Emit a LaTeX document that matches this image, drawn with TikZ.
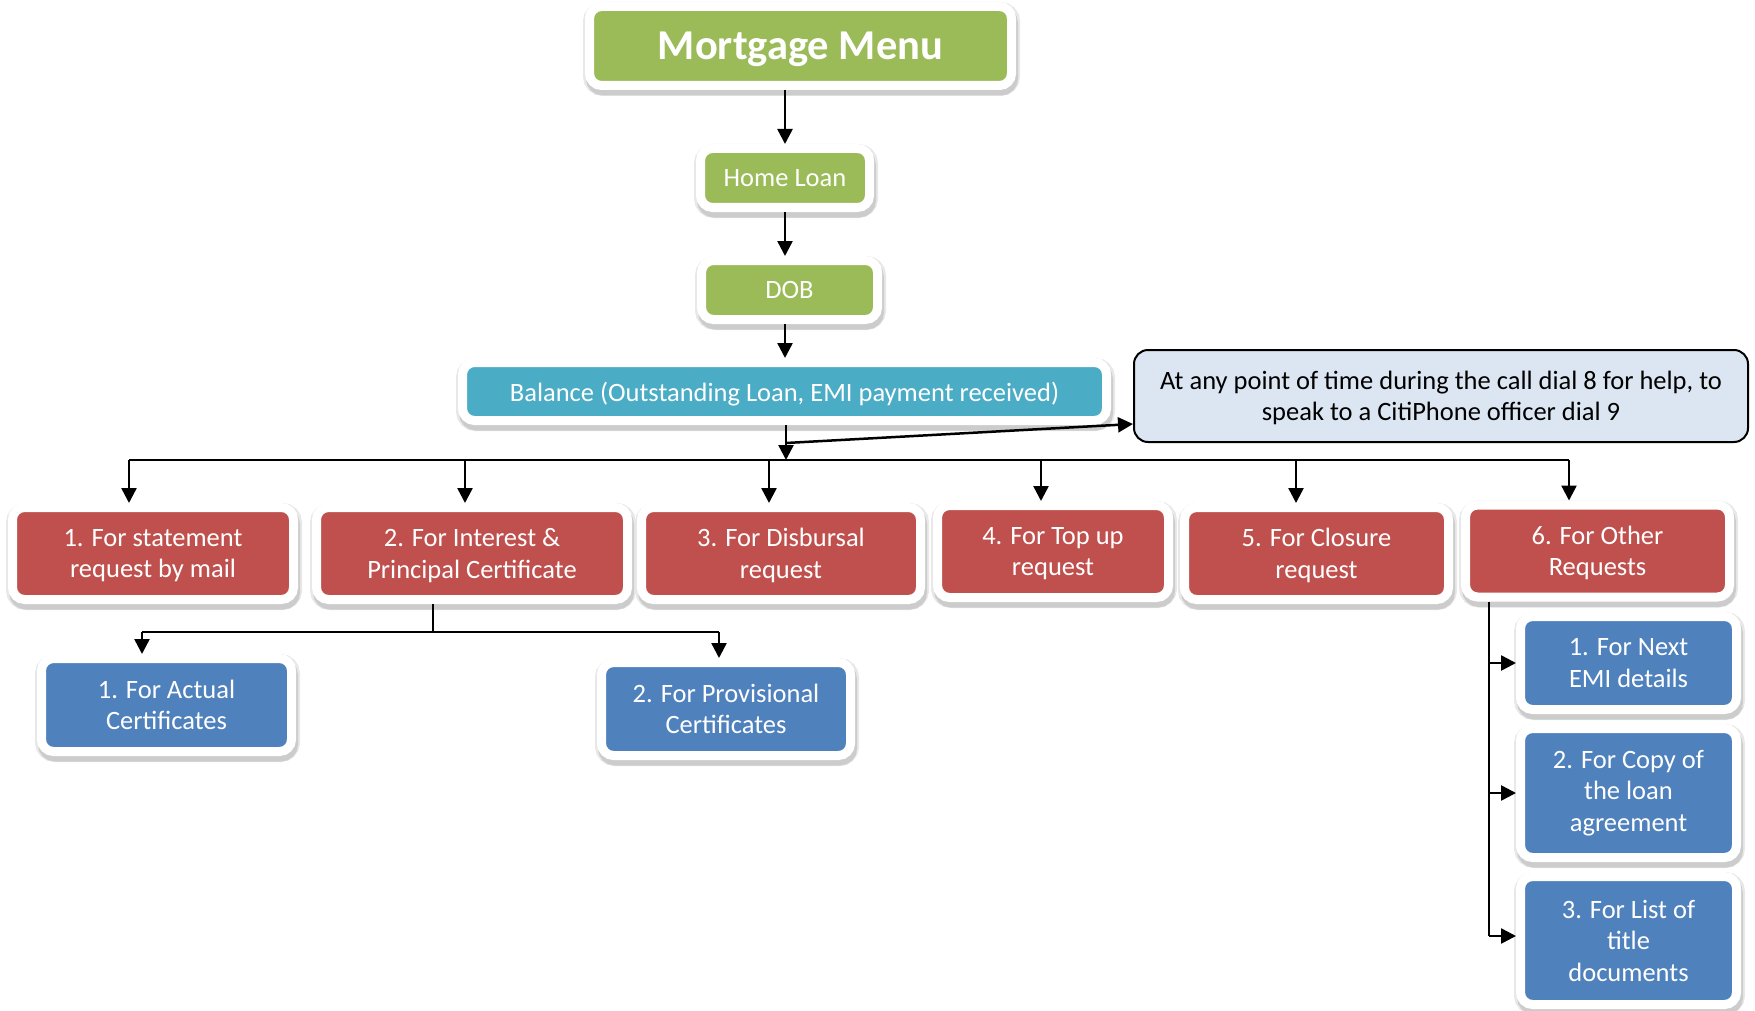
\documentclass[tikz,border=0pt]{standalone}
\usepackage{fontspec}
\setmainfont{Carlito}
\usetikzlibrary{arrows.meta,calc}

\definecolor{mgreen}{HTML}{9BBB59}
\definecolor{mteal}{HTML}{4BACC6}
\definecolor{mred}{HTML}{C0504D}
\definecolor{mblue}{HTML}{4F81BD}
\definecolor{mnote}{HTML}{DCE6F2}

\tikzset{
  box/.style={draw=white, line width=9pt, rounded corners=12pt, text=white,
    align=center, inner sep=0pt, font=\fontsize{26.5}{31.5}\selectfont,
    preaction={draw=black!9, line width=15pt, transform canvas={shift={(1pt,-3pt)}}},
    preaction={draw=black!20, line width=10pt, transform canvas={shift={(1.5pt,-5pt)}}}},
  greenbox/.style={box, fill=mgreen},
  tealbox/.style={box, fill=mteal, text depth=0pt},
  redbox/.style={box, fill=mred, minimum height=92pt, text depth=0pt},
  bluebox/.style={box, fill=mblue},
  notebox/.style={draw=black, line width=2pt, fill=mnote, rounded corners=14pt,
    align=center, inner sep=0pt, minimum width=614pt, minimum height=92pt,
    text depth=0pt, font=\fontsize{26.5}{31.5}\selectfont},
  conn/.style={line width=2.5pt, -{Triangle[length=15pt,width=15pt]}},
  wire/.style={line width=2.5pt}
}

\begin{document}
\begin{tikzpicture}[x=1pt,y=1pt]
\useasboundingbox (0,0) rectangle (1755,-1011);

\node[greenbox, minimum width=422pt, minimum height=79pt, text height=27pt, text depth=0pt,
  font=\fontsize{42.5}{48}\selectfont\bfseries] (menu) at (800.5,-46) {Mortgage Menu};
\node[greenbox, minimum width=169pt, minimum height=59pt] (home) at (785,-178) {Home Loan};
\node[greenbox, minimum width=176pt, minimum height=59pt] (dob) at (789.5,-290) {DOB};
\node[tealbox, minimum width=644pt, minimum height=58pt] (bal) at (784.5,-391.5) {Balance (Outstanding Loan, EMI payment received)};
\node[notebox] (note) at (1441,-396) {At any point of time during the call dial 8 for help, to\\speak to a CitiPhone officer dial 9};

\node[redbox, minimum width=281pt] (r1) at (153,-553.5) {1. For statement\\request by mail};
\node[redbox, minimum width=311pt] (r2) at (472,-553.5) {2. For Interest \&\\Principal Certificate};
\node[redbox, minimum width=279pt] (r3) at (781,-553.5) {3. For Disbursal\\request};
\node[redbox, minimum width=231pt] (r4) at (1053,-551.5) {4. For Top up\\request};
\node[redbox, minimum width=264pt] (r5) at (1316.5,-553.5) {5. For Closure\\request};
\node[redbox, minimum width=264pt] (r6) at (1597.5,-551) {6. For Other\\Requests};

\node[bluebox, minimum width=250pt, minimum height=93pt] (c1) at (166.5,-705) {1. For Actual\\Certificates};
\node[bluebox, minimum width=249pt, minimum height=93pt] (c2) at (726,-709) {2. For Provisional\\Certificates};

\node[bluebox, minimum width=216pt, minimum height=93pt] (o1) at (1628.5,-663) {1. For Next\\EMI details};
\node[bluebox, minimum width=216pt, minimum height=129pt] (o2) at (1628.5,-793) {2. For Copy of\\the loan\\agreement};
\node[bluebox, minimum width=216pt, minimum height=128pt] (o3) at (1628.5,-940.5) {3. For List of\\title\\documents};

\draw[conn] (home |- menu.south) -- (home.north);
\draw[conn] (home.south) -- (home.south |- dob.north);
\draw[conn] (home |- dob.south) -- (home |- bal.north);

\coordinate (split) at (786,-443);
\coordinate (hub) at (786,-460);
\draw[conn] (bal.south -| split) -- (hub);
\draw[conn] (split) -- ($(note.west)+(0,-28)$);

\coordinate (b1) at (129,-460);
\coordinate (b2) at (465,-460);
\coordinate (b3) at (769,-460);
\coordinate (b4) at (1041,-460);
\coordinate (b5) at (1296,-460);
\coordinate (b6) at (1569,-460);
\draw[wire] (b1) -- (b6);
\draw[conn] (b1) -- (b1 |- r1.north);
\draw[conn] (b2) -- (b2 |- r2.north);
\draw[conn] (b3) -- (b3 |- r3.north);
\draw[conn] (b4) -- (b4 |- r4.north);
\draw[conn] (b5) -- (b5 |- r5.north);
\draw[conn] (b6) -- (b6 |- r6.north);

\coordinate (sub) at (433,-632);
\coordinate (s1) at (142,-632);
\coordinate (s2) at (719,-632);
\draw[wire] (sub |- r2.south) -- (sub);
\draw[wire] (s1) -- (s2);
\draw[conn] (s1) -- (s1 |- c1.north);
\draw[conn] (s2) -- (s2 |- c2.north);

\coordinate (spine) at (1489,-936);
\draw[wire] (spine |- r6.south) -- (spine);
\draw[conn] (spine |- o1.west) -- (o1.west);
\draw[conn] (spine |- o2.west) -- (o2.west);
\draw[conn] (spine) -- (spine -| o3.west);
\end{tikzpicture}
\end{document}
